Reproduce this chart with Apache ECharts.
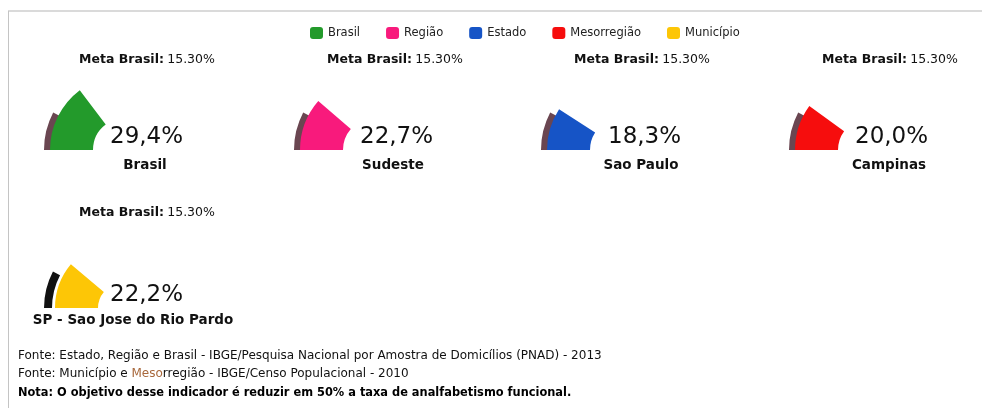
<!DOCTYPE html>
<html>
<head>
<meta charset="utf-8">
<script src="https://cdn.jsdelivr.net/npm/echarts@6/dist/echarts.min.js"></script>
<style>
  html, body { margin: 0; padding: 0; background: #fff; }
  #chart { width: 982px; height: 408px; }
</style>
</head>
<body>
<div id="chart"></div>
<script>
// legend categories and colours
const categories = ['Brasil', 'Região', 'Estado', 'Mesorregião', 'Município'];
const colors = ['#239a2b', '#f81a7c', '#1654c6', '#f60d0d', '#fdc606'];
// one gauge per place
const places = ['Brasil', 'Sudeste', 'Sao Paulo', 'Campinas', 'SP - Sao Jose do Rio Pardo'];
const values = [29.4, 22.7, 18.3, 20.0, 22.2];
const metaValue = 15.3;
const metaText = '15.30%';
const notes = [
  'Fonte: Estado, Região e Brasil - IBGE/Pesquisa Nacional por Amostra de Domicílios (PNAD) - 2013',
  'Fonte: Município e Mesorregião - IBGE/Censo Populacional - 2010',
  'Nota: O objetivo desse indicador é reduzir em 50% a taxa de analfabetismo funcional.'
];

// where each little gauge sits
const slots = [
  { left: 50, bottom: 150, r: 75, meta: [147, 60], val: [110, 137], name: [145, 165] },
  { left: 300, bottom: 150, r: 75, meta: [395, 60], val: [360, 137], name: [393, 165] },
  { left: 547, bottom: 150, r: 75, meta: [642, 60], val: [608, 137], name: [641, 165] },
  { left: 795, bottom: 150, r: 75, meta: [890, 60], val: [855, 137], name: [889, 165] },
  { left: 55, bottom: 308, r: 68, meta: [147, 213], val: [110, 295], name: [133, 320], black: true }
];

const chart = echarts.init(document.getElementById('chart'));
const FONT = 'DejaVu Sans';
const fmt = v => v.toFixed(1).replace('.', ',') + '%';

const series = [];
const graphic = [
  { type: 'line', shape: { x1: 8, y1: 11, x2: 982, y2: 11 }, style: { stroke: '#b5b5b5', lineWidth: 1 } },
  { type: 'line', shape: { x1: 8.5, y1: 11, x2: 8.5, y2: 408 }, style: { stroke: '#c4c4c4', lineWidth: 1 } }
];

slots.forEach((s, i) => {
  const cx = s.left + s.r;
  const inner = s.r - 43;
  // meta part (dark sliver behind)
  series.push({
    type: 'pie',
    silent: true,
    z: 1,
    center: [cx, s.bottom],
    radius: s.black ? [s.r + 3, s.r + 11] : [s.r - 14, s.r + 6],
    startAngle: 180,
    clockwise: true,
    label: { show: false },
    labelLine: { show: false },
    data: [
      { name: 'Meta', value: metaValue, itemStyle: { color: s.black ? '#111111' : '#6a4651' } },
      { name: 'resto', value: 200 - metaValue, itemStyle: { color: 'transparent' } }
    ]
  });
  series.push({
    type: 'pie',
    z: 2,
    center: [cx, s.bottom],
    radius: [inner, s.r],
    startAngle: 180,
    clockwise: true,
    label: { show: false },
    labelLine: { show: false },
    emphasis: { disabled: true },
    data: [
      { name: categories[i], value: values[i], itemStyle: { color: colors[i] } },
      { name: '', value: 200 - values[i], itemStyle: { color: 'transparent' } }
    ]
  });

  graphic.push({
    type: 'text', x: s.meta[0], y: s.meta[1],
    style: {
      text: '{b|Meta Brasil:} {n|' + metaText + '}',
      textAlign: 'center', textVerticalAlign: 'middle',
      rich: {
        b: { fontFamily: FONT, fontSize: 12.5, fontWeight: 'bold', fill: '#111' },
        n: { fontFamily: FONT, fontSize: 12.5, fill: '#111' }
      }
    }
  });
  graphic.push({
    type: 'text', x: s.val[0], y: s.val[1],
    style: {
      text: fmt(values[i]), font: '23px "' + FONT + '"', fill: '#111',
      textAlign: 'left', textVerticalAlign: 'middle'
    }
  });
  graphic.push({
    type: 'text', x: s.name[0], y: s.name[1],
    style: {
      text: places[i], font: 'bold 13.5px "' + FONT + '"', fill: '#111',
      textAlign: 'center', textVerticalAlign: 'middle'
    }
  });
});

const NOTE = 12;
graphic.push({
  type: 'text', x: 18, y: 356,
  style: { text: notes[0], font: NOTE + 'px "' + FONT + '"', fill: '#111', textVerticalAlign: 'middle' }
});
graphic.push({
  type: 'text', x: 18, y: 374,
  style: {
    text: '{n|Fonte: Município e }{m|Meso}{n|rregião - IBGE/Censo Populacional - 2010}',
    textVerticalAlign: 'middle',
    rich: {
      n: { fontFamily: FONT, fontSize: NOTE, fill: '#111' },
      m: { fontFamily: FONT, fontSize: NOTE, fill: '#a8683c' }
    }
  }
});
graphic.push({
  type: 'text', x: 18, y: 393,
  style: { text: notes[2], font: 'bold 11.4px "' + FONT + '"', fill: '#000', textVerticalAlign: 'middle' }
});

chart.setOption({
  animation: false,
  backgroundColor: '#ffffff',
  legend: {
    data: categories,
    left: 305,
    top: 22,
    icon: 'roundRect',
    itemWidth: 13,
    itemHeight: 12,
    itemGap: 26,
    selectedMode: false,
    textStyle: { fontFamily: FONT, fontSize: 11.5, color: '#222' }
  },
  series: series,
  graphic: graphic
});
</script>
</body>
</html>
